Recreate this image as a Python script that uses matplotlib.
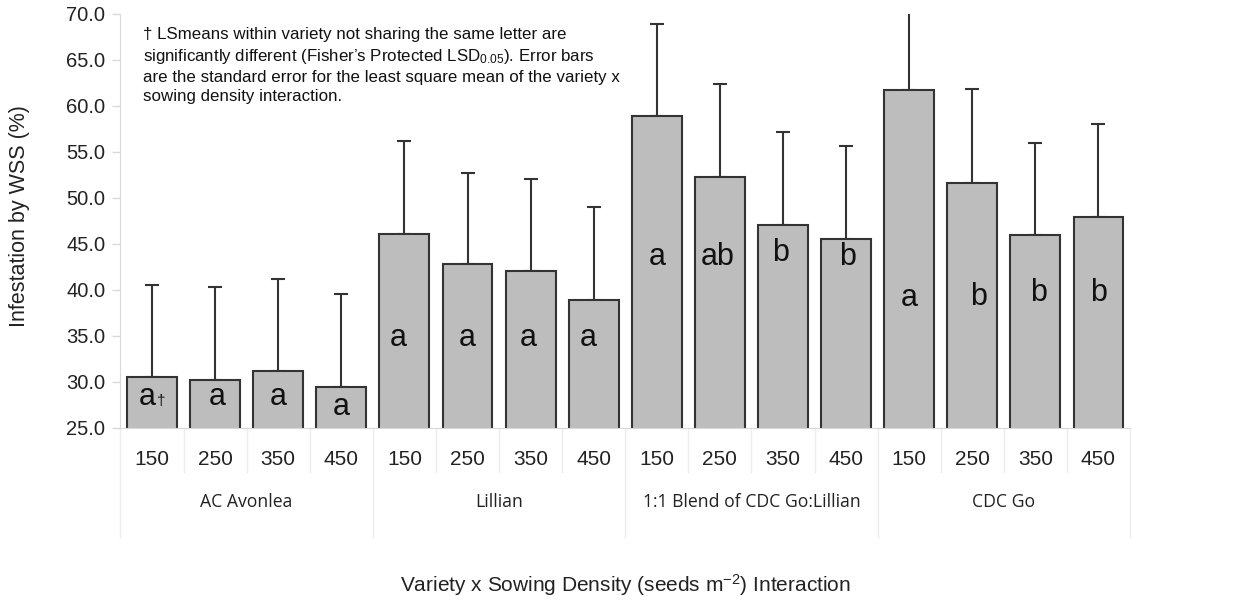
import numpy as np
import matplotlib.pyplot as plt

plt.rcParams['font.family'] = ['Liberation Sans', 'DejaVu Sans']
plt.rcParams['mathtext.fontset'] = 'custom'
plt.rcParams['mathtext.rm'] = 'Liberation Sans'
plt.rcParams['mathtext.it'] = 'Liberation Sans:italic'

# LSmeans of WSS infestation (%) per variety x sowing density
varieties = ["AC Avonlea", "Lillian", "1:1 Blend of CDC Go:Lillian", "CDC Go"]
densities = ["150", "250", "350", "450"]
lsmeans = [30.5, 30.2, 31.2, 29.4,
           46.1, 42.8, 42.0, 38.9,
           58.9, 52.3, 47.0, 45.5,
           61.7, 51.6, 45.9, 47.9]
std_err = [10.0, 10.1, 10.0, 10.1,
           10.1, 9.9, 10.0, 10.1,
           10.0, 10.1, 10.1, 10.1,
           10.1, 10.2, 10.0, 10.1]
letters = ["a", "a", "a", "a",
           "a", "a", "a", "a",
           "a", "ab", "b", "b",
           "a", "b", "b", "b"]

# where the letters sit inside the bars (data units) and small nudges in x
letter_y = [28.3, 28.3, 28.3, 27.25,
            34.75, 34.75, 34.75, 34.75,
            43.55, 43.55, 44.0, 43.55,
            39.1, 39.2, 39.6, 39.6]
letter_dx = [-0.08, 0.04, 0, 0,
             -0.1, 0, -0.03, -0.08,
             0, -0.04, -0.04, 0.03,
             0, 0.1, 0.05, 0]

note = ("\u2020 LSmeans within variety not sharing the same letter are\n"
        "significantly different (Fisher\u2019s Protected LSD$_{\\mathrm{0.05}}$). Error bars\n"
        "are the standard error for the least square mean of the variety x\n"
        "sowing density interaction.")

n_per = len(densities)
x = np.arange(len(lsmeans))
text_col = "#222222"
line_col = "#d9d9d9"

fig = plt.figure(figsize=(12.46, 6.01), dpi=100)
ax = fig.add_axes([0.0967, 0.2884, 0.8102, 0.6888])

ax.bar(x, lsmeans, width=0.79, bottom=0, color="#bdbdbd",
       edgecolor="#333333", linewidth=1.5, zorder=2)
ax.errorbar(x, lsmeans, yerr=[np.zeros(len(x)), std_err], fmt="none",
            ecolor="#333333", elinewidth=1.5, capsize=5, capthick=1.5, zorder=1)

for i, lab in enumerate(letters):
    ax.text(x[i] + letter_dx[i], letter_y[i], lab, ha="center", va="center",
            fontsize=22, color="#111111", zorder=3)
# footnote marker next to the first letter
ax.text(x[0] + 0.14, letter_y[0] - 0.45, "\u2020", ha="center", va="center",
        fontsize=11, color="#111111", zorder=3)

ax.set_ylim(25, 70)
ax.set_xlim(-0.5, len(x) - 0.5)
ax.set_yticks(np.arange(25, 70.1, 5))
ax.set_yticklabels([f"{v:.1f}" for v in np.arange(25, 70.1, 5)])
ax.set_xticks(x, densities * len(varieties))

for s in ["top", "right"]:
    ax.spines[s].set_visible(False)
ax.spines["left"].set_color(line_col)
ax.spines["bottom"].set_color(line_col)
ax.tick_params(axis="y", labelsize=14.5, colors=line_col, labelcolor=text_col,
               length=6, width=1, pad=5)
ax.tick_params(axis="x", labelsize=15, labelcolor=text_col, length=0, pad=16)

# category separators below the axis
trans = ax.get_xaxis_transform()
for b in np.arange(-0.5, len(x), 1.0):
    depth = -0.264 if (b + 0.5) % n_per == 0 else -0.107
    ax.plot([b, b], [0, depth], color="#ececec", lw=1, transform=trans,
            clip_on=False)

for g, name in enumerate(varieties):
    ax.text(g * n_per + (n_per - 1) / 2, -0.18, name, transform=trans,
            ha="center", va="center", fontsize=12.7, color=text_col,
            family=["Open Sans", "DejaVu Sans"])

ax.set_ylabel("Infestation by WSS (%)", fontsize=15.5, color=text_col)
ax.yaxis.set_label_coords(-0.0897, 0.51)
ax.set_xlabel("Variety x Sowing Density (seeds m$^{\\mathrm{-2}}$) Interaction",
              fontsize=15, color=text_col)
ax.xaxis.set_label_coords(0.5, -0.35)

ax.text(0.0223, 0.967, note, transform=ax.transAxes, ha="left", va="top",
        fontsize=12.2, color="#111111", linespacing=1.33)

fig.savefig("out.png", dpi=100, facecolor="white")
